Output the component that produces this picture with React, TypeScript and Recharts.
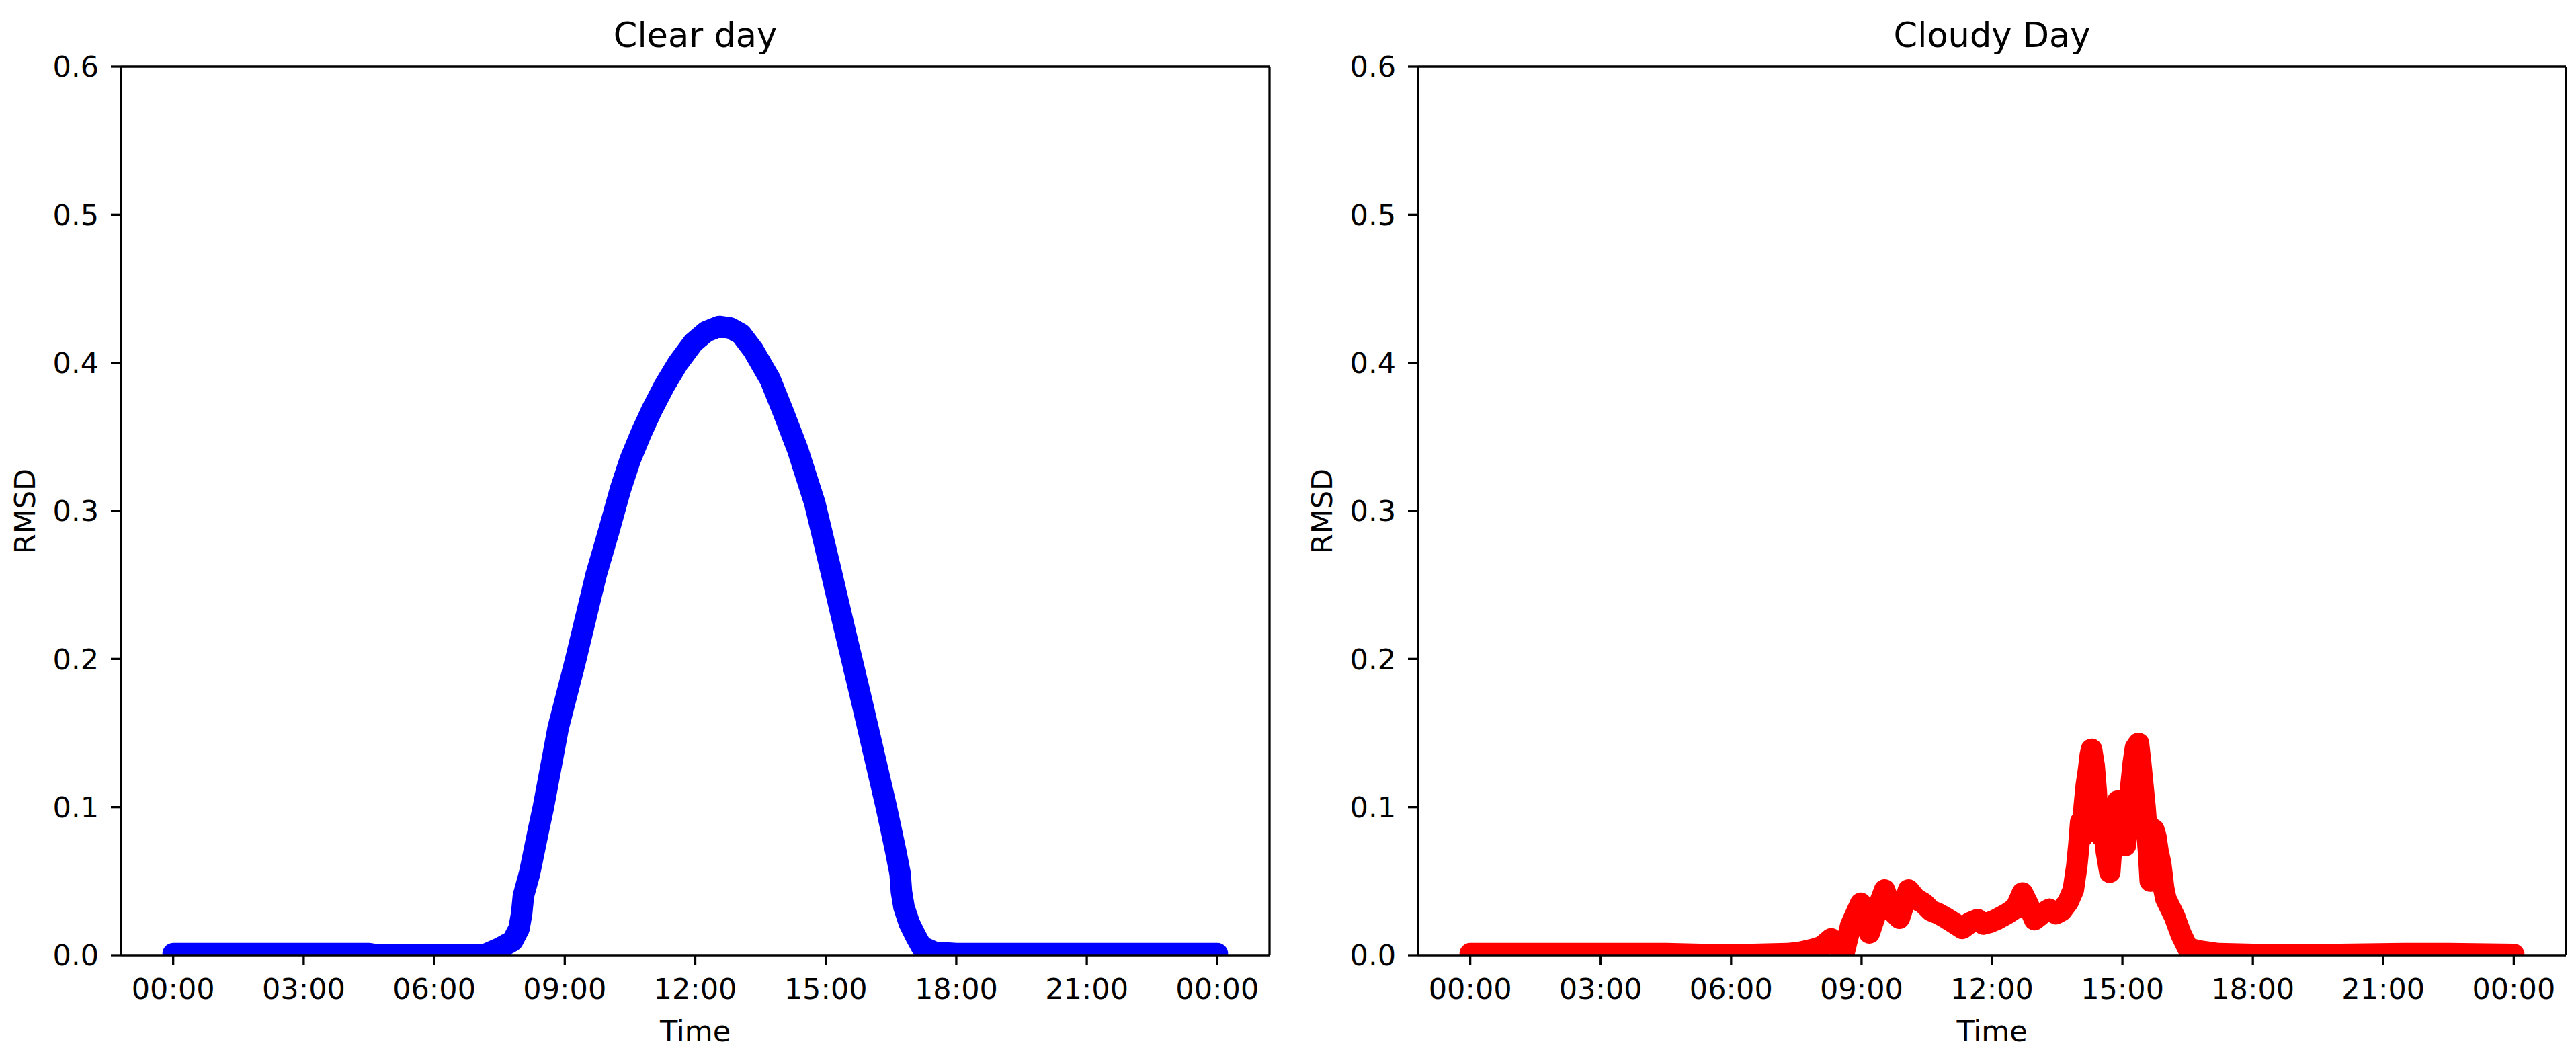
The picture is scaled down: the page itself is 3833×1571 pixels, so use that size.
import { LineChart, Line, XAxis, YAxis, ReferenceLine } from 'recharts';

// hours since midnight -> RMSD
const clearHours = [0, 1.5, 3, 4.5, 4.6, 6, 7.18, 7.52, 7.8, 7.95, 8.01, 8.05, 8.19, 8.4, 8.51, 8.85, 9.25, 9.72, 10.02, 10.28, 10.5, 10.75, 11.0, 11.3, 11.6, 11.95, 12.25, 12.55, 12.8, 13.05, 13.33, 13.72, 14.02, 14.35, 14.75, 15.1, 15.45, 15.8, 16.1, 16.39, 16.5, 16.61, 16.71, 16.74, 16.8, 16.92, 17.07, 17.2, 17.5, 18, 20, 22, 24];
const clearRmsd = [0.001, 0.001, 0.001, 0.001, 0.0005, 0.0005, 0.0005, 0.005, 0.0095, 0.018, 0.028, 0.04, 0.055, 0.085, 0.1, 0.1535, 0.1993, 0.2567, 0.2871, 0.3145, 0.3342, 0.352, 0.368, 0.385, 0.3996, 0.4135, 0.421, 0.4245, 0.4235, 0.4195, 0.4087, 0.3889, 0.367, 0.3418, 0.305, 0.262, 0.218, 0.175, 0.137, 0.1003, 0.0852, 0.07, 0.0549, 0.0428, 0.0322, 0.0216, 0.0127, 0.0058, 0.002, 0.001, 0.001, 0.001, 0.001];

const cloudyHours = [0, 2, 4.5, 5.3, 6.5, 7.3, 7.6, 7.9, 8.1, 8.3, 8.45, 8.6, 8.75, 8.98, 9.18, 9.35, 9.53, 9.7, 9.87, 10.08, 10.25, 10.43, 10.6, 10.77, 10.95, 11.11, 11.32, 11.5, 11.67, 11.8, 11.94, 12.1, 12.35, 12.55, 12.7, 12.82, 12.98, 13.15, 13.32, 13.47, 13.6, 13.75, 13.87, 13.95, 14.0, 14.04, 14.08, 14.12, 14.17, 14.22, 14.26, 14.29, 14.35, 14.4, 14.44, 14.48, 14.53, 14.58, 14.63, 14.71, 14.78, 14.84, 14.89, 14.94, 14.98, 15.03, 15.07, 15.12, 15.18, 15.25, 15.3, 15.37, 15.42, 15.47, 15.52, 15.56, 15.6, 15.64, 15.68, 15.72, 15.77, 15.82, 15.88, 15.95, 16.0, 16.2, 16.35, 16.5, 16.72, 17.2, 18, 20, 21.5, 22.5, 24];
const cloudyRmsd = [0.001, 0.001, 0.001, 0.0005, 0.0005, 0.001, 0.002, 0.004, 0.006, 0.011, 0.006, 0.002, 0.02, 0.035, 0.015, 0.03, 0.044, 0.03, 0.025, 0.044, 0.038, 0.035, 0.03, 0.028, 0.025, 0.022, 0.018, 0.022, 0.024, 0.021, 0.022, 0.024, 0.028, 0.032, 0.042, 0.035, 0.024, 0.028, 0.031, 0.028, 0.03, 0.036, 0.044, 0.06, 0.075, 0.09, 0.08, 0.1, 0.115, 0.125, 0.135, 0.139, 0.128, 0.11, 0.085, 0.1, 0.08, 0.095, 0.07, 0.056, 0.085, 0.1, 0.104, 0.085, 0.095, 0.078, 0.074, 0.095, 0.11, 0.13, 0.14, 0.143, 0.13, 0.115, 0.1, 0.085, 0.07, 0.05, 0.06, 0.085, 0.08, 0.07, 0.062, 0.045, 0.038, 0.026, 0.014, 0.005, 0.003, 0.001, 0.0005, 0.0005, 0.001, 0.001, 0.0005];

const timeTicks = [0, 3, 6, 9, 12, 15, 18, 21, 24];
const rmsdTicks = [0, 0.1, 0.2, 0.3, 0.4, 0.5, 0.6];

const FONT = "'DejaVu Sans', sans-serif";
const H = 1571;
const PLOT_TOP = 99;
const PLOT_BOTTOM = 1421;
const X_DOMAIN: [number, number] = [-1.2, 25.2];
const Y_DOMAIN: [number, number] = [0, 0.6];
const SPINE = { stroke: '#000', strokeWidth: 3.3 };
const TICK = { fill: '#000', fontSize: 43, fontFamily: FONT };

const fmtTime = (h: number) => `${String(h % 24).padStart(2, '0')}:00`;

type PanelProps = {
  left: number;
  width: number;
  plotLeft: number;
  plotRight: number;
  title: string;
  hours: number[];
  values: number[];
  color: string;
};

function Panel({ left, width, plotLeft, plotRight, title, hours, values, color }: PanelProps) {
  const data = hours.map((h, i) => ({ h, v: values[i] }));
  const cx = (plotLeft + plotRight) / 2;
  return (
    <>
      <div style={{ position: 'absolute', left, top: 0 }}>
        <LineChart
          width={width}
          height={H}
          data={data}
          margin={{ top: PLOT_TOP, right: left + width - plotRight, bottom: H - PLOT_BOTTOM - 100, left: plotLeft - left - 100 }}
        >
          <XAxis
            dataKey="h"
            type="number"
            domain={X_DOMAIN}
            ticks={timeTicks}
            tickFormatter={fmtTime}
            interval={0}
            allowDataOverflow
            height={100}
            tickSize={15}
            tickMargin={19}
            tick={TICK}
            tickLine={SPINE}
            axisLine={SPINE}
          />
          <YAxis
            type="number"
            domain={Y_DOMAIN}
            ticks={rmsdTicks}
            tickFormatter={(v: number) => v.toFixed(1)}
            interval={0}
            allowDataOverflow
            width={100}
            tickSize={15}
            tickMargin={18}
            tick={TICK}
            tickLine={SPINE}
            axisLine={SPINE}
          />
          <Line
            type="linear"
            dataKey="v"
            stroke={color}
            strokeWidth={32}
            strokeLinecap="round"
            strokeLinejoin="round"
            dot={false}
            activeDot={false}
            isAnimationActive={false}
          />
          {/* top and right spines */}
          <ReferenceLine y={Y_DOMAIN[1]} stroke="#000" strokeWidth={3.3} ifOverflow="visible" />
          <ReferenceLine x={X_DOMAIN[1]} stroke="#000" strokeWidth={3.3} ifOverflow="visible" />
        </LineChart>
      </div>
      <div style={{ position: 'absolute', left: cx - 400, width: 800, top: 26.5, fontSize: 51, lineHeight: '51px', textAlign: 'center' }}>
        {title}
      </div>
      <div style={{ position: 'absolute', left: cx - 200, width: 400, top: 1512.6, fontSize: 43, lineHeight: '43px', textAlign: 'center' }}>
        Time
      </div>
      <div
        style={{
          position: 'absolute',
          left: plotLeft - 143 - 100,
          width: 200,
          top: (PLOT_TOP + PLOT_BOTTOM) / 2 - 21.5,
          height: 43,
          fontSize: 43,
          lineHeight: '43px',
          textAlign: 'center',
          transform: 'rotate(-90deg)',
        }}
      >
        RMSD
      </div>
    </>
  );
}

export default function App() {
  return (
    <div style={{ position: 'absolute', left: 0, top: 0, width: 3833, height: H, background: '#fff', fontFamily: FONT, color: '#000' }}>
      <Panel left={0} width={1916} plotLeft={180} plotRight={1889} title="Clear day" hours={clearHours} values={clearRmsd} color="#0000ff" />
      <Panel left={1916} width={1917} plotLeft={2110} plotRight={3818} title="Cloudy Day" hours={cloudyHours} values={cloudyRmsd} color="#ff0000" />
    </div>
  );
}
